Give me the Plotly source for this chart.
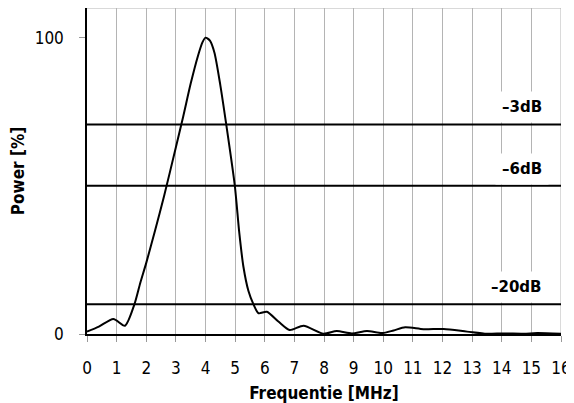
import plotly.graph_objects as go

freq = [0, 0.4, 0.89, 1.28, 1.6, 1.8, 2.0, 2.3, 2.6, 3.0, 3.25, 3.5, 3.75, 3.9, 4.0,
        4.15, 4.3, 4.5, 4.70, 4.99, 5.14, 5.28, 5.45, 5.62, 5.79, 6.07, 6.46, 6.84, 7.31, 7.98, 8.43,
        8.94, 9.45, 9.96, 10.35, 10.74, 11.36, 12.04, 12.83, 13.5, 14.05, 14.74, 15.2, 16]
power = [0.8, 2.5, 5.1, 2.8, 10, 17.3, 24, 35, 46.5, 63, 73.5, 84.5, 94, 98.5, 100,
         99, 95, 84, 70.7, 50, 34.2, 22.7, 14.5, 10, 7.0, 7.5, 4.2, 1.35, 2.8, 0.1, 1.0,
         0.2, 1.0, 0.3, 1.2, 2.25, 1.6, 1.7, 0.8, 0.05, 0.2, 0.1, 0.3, 0.05]

ref_levels = [70.7, 50, 10]
ref_labels = ["\u20133dB", "\u20136dB", "\u201320dB"]

x_ticks = list(range(0, 17))
y_ticks = [0, 100]

tick_font = dict(family="DejaVu Sans Condensed, DejaVu Sans", size=17, color="black")
title_font = dict(family="DejaVu Sans Condensed, DejaVu Sans", size=17, color="black")

fig = go.Figure()
fig.add_trace(go.Scatter(x=freq, y=power, mode="lines",
                         line=dict(color="black", width=2, shape="spline", smoothing=0.7),
                         showlegend=False, hoverinfo="skip"))

shapes = []
for lvl in ref_levels:
    shapes.append(dict(type="line", xref="x", yref="y", x0=0, x1=16, y0=lvl, y1=lvl,
                       line=dict(color="black", width=2), layer="above"))
shapes.append(dict(type="line", xref="x", yref="y", x0=0, x1=16, y0=110, y1=110,
                   line=dict(color="#b4b4b4", width=1), layer="below"))
shapes.append(dict(type="line", xref="x", yref="y", x0=16, x1=16, y0=0, y1=110,
                   line=dict(color="#b4b4b4", width=1), layer="below"))

annotations = []
for lvl, lab in zip(ref_levels, ref_labels):
    annotations.append(dict(x=15.6, y=lvl, xref="x", yref="y", xanchor="right", yanchor="bottom",
                            text="<b>" + lab + "</b>", showarrow=False,
                            font=dict(family="DejaVu Sans", size=15, color="black"),
                            bgcolor="white", borderpad=6, yshift=1))

# page body has an 8px margin, so the figure is sized/offset to compensate
fig.update_layout(
    width=566, height=395,
    margin=dict(l=79, r=13, t=0, b=69),
    paper_bgcolor="white", plot_bgcolor="white",
    shapes=shapes, annotations=annotations,
    xaxis=dict(range=[0, 16], tickvals=x_ticks, ticktext=[str(v) for v in x_ticks],
               showgrid=True, gridcolor="#b4b4b4", gridwidth=1,
               showline=True, linecolor="black", linewidth=1.5,
               ticks="outside", ticklen=6, tickcolor="#999999", tickwidth=1,
               tickfont=tick_font, ticklabelstandoff=12, zeroline=False, automargin=False,
               title=dict(text="<b>Frequentie [MHz]</b>", font=title_font, standoff=12)),
    yaxis=dict(range=[0, 110], tickvals=y_ticks, ticktext=[str(v) for v in y_ticks],
               showgrid=False, showline=True, linecolor="black", linewidth=1.5,
               ticks="outside", ticklen=6, tickcolor="#999999", tickwidth=1,
               tickfont=tick_font, ticklabelstandoff=12, zeroline=False, automargin=False,
               title=dict(text="<b>Power [%]</b>", font=title_font, standoff=18)),
)

fig.write_html("out.html")
